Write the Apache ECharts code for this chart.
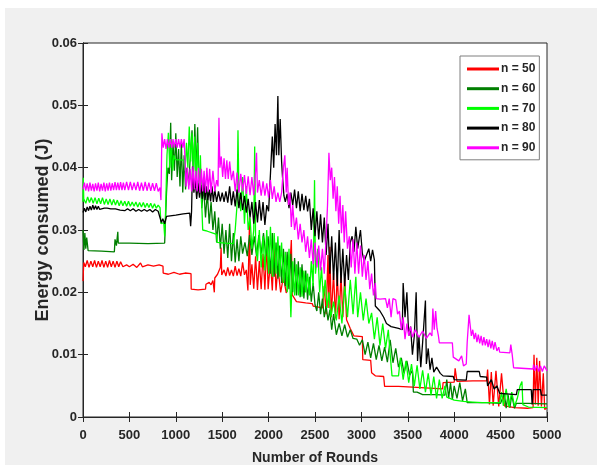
<!DOCTYPE html>
<html>
<head>
<meta charset="utf-8">
<script src="https://cdn.jsdelivr.net/npm/echarts@6/dist/echarts.min.js"></script>
<style>
  html, body { margin: 0; padding: 0; background: #fff; }
  #chart { position: absolute; left: 5px; top: 8px; width: 592px; height: 457px; }
</style>
</head>
<body>
<div id="chart"></div>
<script>
const seriesNames = ["n = 50", "n = 60", "n = 70", "n = 80", "n = 90"];
const colors = ["#ff0000", "#007f00", "#00ff00", "#000000", "#ff00ff"];

// values: [round, energy]
const n50 = [[0,0.0218],[8,0.0248],[25,0.0241],[45,0.0251],[65,0.0240],[85,0.0250],[105,0.0241],[125,0.0251],[145,0.0240],[165,0.0250],[185,0.0241],[205,0.0251],[225,0.0240],[245,0.0250],[265,0.0240],[285,0.0251],[305,0.0241],[325,0.0250],[345,0.0240],[365,0.0250],[385,0.0241],[405,0.0249],[430,0.0241],[470,0.0244],[500,0.0241],[540,0.0245],[580,0.0240],[620,0.0247],[640,0.0241],[700,0.0244],[760,0.0242],[820,0.0244],[862,0.0242],[864,0.0231],[920,0.0229],[980,0.0232],[1040,0.0229],[1100,0.0231],[1164,0.0230],[1166,0.0205],[1240,0.0204],[1320,0.0205],[1325,0.0213],[1360,0.0216],[1380,0.0212],[1400,0.0219],[1415,0.0200],[1420,0.0223],[1450,0.0229],[1470,0.0226],[1480,0.0240],[1488,0.0272],[1495,0.0228],[1520,0.0236],[1540,0.0226],[1560,0.0240],[1580,0.0227],[1600,0.0236],[1620,0.0226],[1640,0.0242],[1660,0.0227],[1680,0.0238],[1700,0.0226],[1720,0.0248],[1740,0.0228],[1760,0.0236],[1777,0.0203],[1785,0.0250],[1795,0.0320],[1802,0.0212],[1820,0.0245],[1840,0.0206],[1860,0.0258],[1880,0.0204],[1900,0.0250],[1920,0.0205],[1940,0.0262],[1960,0.0204],[1980,0.0280],[1995,0.0205],[2020,0.0250],[2040,0.0203],[2060,0.0276],[2080,0.0203],[2100,0.0240],[2130,0.0200],[2160,0.0225],[2190,0.0199],[2220,0.0215],[2245,0.0284],[2255,0.0196],[2300,0.0185],[2400,0.0183],[2470,0.0182],[2480,0.0178],[2580,0.0175],[2600,0.0210],[2620,0.0165],[2640,0.0260],[2650,0.0175],[2660,0.0273],[2675,0.0160],[2700,0.0231],[2720,0.0158],[2740,0.0230],[2760,0.0157],[2780,0.0228],[2800,0.0160],[2820,0.0225],[2840,0.0156],[2880,0.0142],[2920,0.0130],[3010,0.0129],[3015,0.0092],[3100,0.0091],[3110,0.0071],[3150,0.0066],[3240,0.0065],[3250,0.0049],[3400,0.0049],[3550,0.0048],[3560,0.0045],[3875,0.0045],[3880,0.0055],[4000,0.0056],[4010,0.0078],[4030,0.0057],[4200,0.0058],[4350,0.0058],[4360,0.0076],[4380,0.0020],[4400,0.0072],[4420,0.0018],[4450,0.0074],[4480,0.0017],[4510,0.0070],[4540,0.0018],[4650,0.0015],[4790,0.0014],[4850,0.0015],[4860,0.0100],[4875,0.0020],[4890,0.0095],[4905,0.0018],[4920,0.0090],[4940,0.0017],[4960,0.0070],[4975,0.0012],[5000,0.0015]];

const n60 = [[0,0.0300],[10,0.0268],[20,0.0295],[30,0.0270],[40,0.0288],[55,0.0267],[72,0.0266],[200,0.0266],[338,0.0265],[345,0.0285],[360,0.0275],[375,0.0297],[380,0.0279],[500,0.0279],[700,0.0278],[880,0.0279],[885,0.0300],[900,0.0360],[915,0.0400],[930,0.0390],[945,0.0472],[955,0.0380],[970,0.0440],[985,0.0395],[1000,0.0455],[1015,0.0385],[1030,0.0430],[1045,0.0370],[1060,0.0440],[1075,0.0360],[1090,0.0420],[1105,0.0365],[1120,0.0400],[1140,0.0372],[1160,0.0430],[1175,0.0460],[1190,0.0380],[1205,0.0470],[1220,0.0390],[1235,0.0465],[1250,0.0370],[1265,0.0390],[1280,0.0335],[1300,0.0370],[1320,0.0320],[1340,0.0360],[1360,0.0310],[1380,0.0345],[1400,0.0300],[1420,0.0330],[1440,0.0280],[1460,0.0320],[1480,0.0270],[1500,0.0310],[1520,0.0262],[1540,0.0300],[1560,0.0255],[1580,0.0310],[1600,0.0250],[1620,0.0295],[1640,0.0248],[1660,0.0285],[1680,0.0250],[1700,0.0290],[1720,0.0262],[1745,0.0280],[1770,0.0258],[1795,0.0292],[1820,0.0260],[1845,0.0290],[1870,0.0258],[1895,0.0292],[1920,0.0262],[1945,0.0295],[1970,0.0258],[1995,0.0290],[2020,0.0230],[2040,0.0295],[2060,0.0225],[2080,0.0280],[2100,0.0222],[2120,0.0275],[2140,0.0215],[2160,0.0270],[2180,0.0210],[2200,0.0265],[2220,0.0205],[2240,0.0262],[2260,0.0200],[2280,0.0255],[2300,0.0195],[2320,0.0250],[2340,0.0192],[2360,0.0245],[2380,0.0190],[2400,0.0235],[2420,0.0188],[2440,0.0225],[2460,0.0185],[2480,0.0215],[2500,0.0180],[2520,0.0170],[2540,0.0200],[2560,0.0165],[2580,0.0190],[2600,0.0160],[2620,0.0178],[2640,0.0155],[2660,0.0172],[2680,0.0140],[2700,0.0165],[2730,0.0132],[2760,0.0150],[2790,0.0130],[2820,0.0148],[2850,0.0128],[2880,0.0140],[2910,0.0126],[2950,0.0125],[2980,0.0115],[3010,0.0124],[3040,0.0100],[3070,0.0120],[3100,0.0095],[3130,0.0118],[3160,0.0092],[3190,0.0115],[3220,0.0090],[3250,0.0112],[3280,0.0088],[3310,0.0124],[3340,0.0087],[3370,0.0110],[3400,0.0080],[3430,0.0095],[3460,0.0070],[3490,0.0090],[3520,0.0067],[3550,0.0075],[3560,0.0040],[3600,0.0040],[3660,0.0036],[3800,0.0036],[3900,0.0035],[3920,0.0060],[3940,0.0030],[3960,0.0055],[3980,0.0028],[4000,0.0050],[4030,0.0030],[4060,0.0055],[4090,0.0026],[4120,0.0045],[4140,0.0023],[4350,0.0023],[4500,0.0022],[4540,0.0038],[4560,0.0014],[4580,0.0036],[4600,0.0015],[4620,0.0035],[4650,0.0014],[4670,0.0022],[4800,0.0022],[5000,0.0021]];

const n70 = [[0,0.0345],[3,0.0384],[8,0.0350],[30,0.0343],[50,0.0353],[70,0.0344],[90,0.0352],[110,0.0343],[130,0.0352],[150,0.0342],[170,0.0351],[190,0.0342],[210,0.0352],[230,0.0341],[250,0.0350],[270,0.0341],[290,0.0350],[310,0.0340],[330,0.0349],[350,0.0340],[370,0.0348],[390,0.0339],[410,0.0347],[430,0.0339],[450,0.0346],[470,0.0338],[490,0.0346],[510,0.0338],[530,0.0345],[550,0.0338],[570,0.0345],[590,0.0337],[610,0.0344],[630,0.0337],[650,0.0344],[670,0.0336],[690,0.0343],[710,0.0336],[730,0.0343],[750,0.0335],[770,0.0342],[790,0.0335],[810,0.0340],[830,0.0336],[840,0.0310],[870,0.0312],[880,0.0290],[890,0.0330],[905,0.0420],[920,0.0456],[935,0.0400],[950,0.0440],[965,0.0395],[980,0.0420],[995,0.0413],[1090,0.0412],[1100,0.0395],[1115,0.0440],[1130,0.0400],[1145,0.0466],[1160,0.0410],[1175,0.0455],[1190,0.0395],[1205,0.0450],[1220,0.0380],[1235,0.0440],[1250,0.0360],[1265,0.0420],[1280,0.0340],[1290,0.0300],[1340,0.0298],[1400,0.0295],[1440,0.0293],[1445,0.0280],[1530,0.0279],[1620,0.0278],[1640,0.0300],[1660,0.0340],[1670,0.0460],[1680,0.0360],[1700,0.0330],[1720,0.0385],[1740,0.0310],[1760,0.0370],[1780,0.0300],[1800,0.0320],[1820,0.0270],[1840,0.0300],[1850,0.0434],[1860,0.0280],[1880,0.0250],[1900,0.0300],[1920,0.0240],[1940,0.0290],[1960,0.0235],[1980,0.0300],[2000,0.0230],[2020,0.0305],[2040,0.0225],[2060,0.0295],[2080,0.0230],[2100,0.0290],[2120,0.0225],[2140,0.0280],[2160,0.0215],[2180,0.0265],[2200,0.0200],[2220,0.0270],[2240,0.0160],[2260,0.0250],[2280,0.0195],[2300,0.0245],[2320,0.0195],[2340,0.0240],[2360,0.0193],[2380,0.0235],[2400,0.0200],[2420,0.0230],[2440,0.0195],[2460,0.0250],[2480,0.0210],[2495,0.0380],[2505,0.0230],[2530,0.0270],[2550,0.0200],[2570,0.0240],[2590,0.0190],[2610,0.0220],[2630,0.0175],[2650,0.0200],[2670,0.0160],[2700,0.0185],[2730,0.0155],[2760,0.0195],[2790,0.0150],[2820,0.0210],[2850,0.0160],[2880,0.0220],[2910,0.0165],[2940,0.0225],[2960,0.0160],[2990,0.0200],[3020,0.0155],[3050,0.0190],[3080,0.0150],[3110,0.0167],[3140,0.0125],[3170,0.0160],[3200,0.0115],[3230,0.0150],[3260,0.0110],[3290,0.0140],[3310,0.0100],[3330,0.0066],[3400,0.0066],[3420,0.0095],[3450,0.0060],[3480,0.0090],[3510,0.0055],[3540,0.0085],[3570,0.0050],[3600,0.0083],[3630,0.0045],[3660,0.0075],[3690,0.0040],[3720,0.0070],[3750,0.0035],[3780,0.0065],[3810,0.0030],[3840,0.0060],[3870,0.0030],[3900,0.0050],[3920,0.0032],[4000,0.0027],[4100,0.0025],[4200,0.0024],[4300,0.0023],[4490,0.0023],[4510,0.0040],[4530,0.0018],[4560,0.0045],[4590,0.0016],[4620,0.0040],[4650,0.0017],[4680,0.0030],[4710,0.0050],[4730,0.0057],[4740,0.0020],[4800,0.0016],[5000,0.0015]];

const n80 = [[0,0.0328],[15,0.0335],[30,0.0329],[45,0.0337],[60,0.0331],[75,0.0338],[90,0.0332],[105,0.0340],[120,0.0333],[135,0.0339],[150,0.0333],[165,0.0338],[180,0.0333],[200,0.0336],[230,0.0335],[260,0.0335],[300,0.0334],[350,0.0334],[400,0.0332],[420,0.0334],[450,0.0331],[480,0.0334],[510,0.0331],[540,0.0334],[570,0.0330],[600,0.0333],[630,0.0330],[660,0.0333],[690,0.0330],[720,0.0333],[750,0.0329],[780,0.0333],[810,0.0330],[830,0.0328],[845,0.0312],[860,0.0318],[880,0.0310],[900,0.0322],[915,0.0325],[1000,0.0324],[1080,0.0326],[1150,0.0327],[1160,0.0306],[1170,0.0330],[1180,0.0402],[1195,0.0360],[1210,0.0380],[1225,0.0350],[1240,0.0375],[1255,0.0352],[1270,0.0372],[1285,0.0350],[1300,0.0385],[1315,0.0348],[1330,0.0370],[1345,0.0348],[1360,0.0365],[1375,0.0346],[1390,0.0370],[1405,0.0345],[1420,0.0365],[1440,0.0345],[1460,0.0362],[1480,0.0346],[1500,0.0360],[1520,0.0345],[1540,0.0362],[1560,0.0344],[1580,0.0370],[1600,0.0340],[1620,0.0362],[1640,0.0338],[1660,0.0365],[1680,0.0335],[1700,0.0360],[1720,0.0332],[1740,0.0355],[1760,0.0328],[1780,0.0350],[1800,0.0320],[1820,0.0345],[1840,0.0310],[1860,0.0345],[1880,0.0312],[1900,0.0348],[1920,0.0315],[1940,0.0345],[1960,0.0308],[1980,0.0340],[2000,0.0330],[2020,0.0390],[2040,0.0450],[2055,0.0400],[2070,0.0470],[2085,0.0420],[2100,0.0515],[2110,0.0420],[2125,0.0478],[2140,0.0410],[2150,0.0385],[2165,0.0355],[2180,0.0345],[2200,0.0358],[2220,0.0335],[2240,0.0360],[2260,0.0340],[2280,0.0365],[2300,0.0335],[2320,0.0362],[2340,0.0330],[2360,0.0358],[2380,0.0332],[2400,0.0355],[2420,0.0330],[2440,0.0350],[2460,0.0300],[2480,0.0335],[2500,0.0290],[2520,0.0330],[2540,0.0285],[2560,0.0325],[2580,0.0280],[2600,0.0320],[2620,0.0260],[2640,0.0310],[2660,0.0230],[2680,0.0290],[2700,0.0220],[2720,0.0280],[2740,0.0210],[2760,0.0300],[2780,0.0215],[2800,0.0270],[2820,0.0210],[2840,0.0260],[2860,0.0220],[2880,0.0280],[2900,0.0290],[2920,0.0265],[2940,0.0305],[2960,0.0270],[2990,0.0300],[3010,0.0263],[3030,0.0250],[3060,0.0262],[3080,0.0270],[3100,0.0250],[3120,0.0268],[3140,0.0252],[3150,0.0178],[3200,0.0170],[3240,0.0160],[3270,0.0150],[3320,0.0145],[3400,0.0142],[3440,0.0140],[3450,0.0215],[3470,0.0160],[3490,0.0200],[3510,0.0130],[3530,0.0145],[3550,0.0100],[3570,0.0130],[3590,0.0200],[3605,0.0090],[3620,0.0130],[3640,0.0080],[3660,0.0120],[3690,0.0187],[3700,0.0085],[3720,0.0110],[3740,0.0076],[3760,0.0095],[3780,0.0072],[3810,0.0080],[3850,0.0070],[3880,0.0066],[3990,0.0065],[4000,0.0060],[4130,0.0059],[4140,0.0073],[4270,0.0073],[4280,0.0065],[4350,0.0064],[4360,0.0050],[4400,0.0060],[4430,0.0045],[4460,0.0050],[4490,0.0038],[4670,0.0036],[4680,0.0044],[4830,0.0044],[4840,0.0020],[4850,0.0044],[4930,0.0044],[4940,0.0035],[5000,0.0035]];

const n90 = [[0,0.0365],[15,0.0376],[30,0.0363],[45,0.0375],[60,0.0362],[75,0.0376],[90,0.0363],[105,0.0374],[120,0.0362],[135,0.0375],[150,0.0363],[165,0.0376],[180,0.0362],[195,0.0374],[210,0.0363],[225,0.0376],[240,0.0362],[255,0.0375],[270,0.0363],[285,0.0376],[300,0.0363],[315,0.0375],[330,0.0364],[345,0.0377],[360,0.0364],[375,0.0376],[390,0.0364],[405,0.0377],[420,0.0364],[435,0.0376],[450,0.0364],[470,0.0377],[490,0.0364],[510,0.0377],[530,0.0364],[550,0.0376],[570,0.0364],[590,0.0377],[610,0.0363],[630,0.0376],[650,0.0363],[670,0.0377],[690,0.0363],[710,0.0376],[730,0.0363],[750,0.0375],[770,0.0363],[790,0.0375],[810,0.0362],[830,0.0368],[840,0.0348],[850,0.0455],[865,0.0432],[880,0.0446],[895,0.0430],[910,0.0446],[925,0.0432],[940,0.0446],[955,0.0432],[970,0.0446],[985,0.0432],[1000,0.0446],[1015,0.0432],[1030,0.0446],[1045,0.0432],[1060,0.0446],[1075,0.0432],[1090,0.0446],[1100,0.0410],[1110,0.0370],[1125,0.0400],[1140,0.0365],[1155,0.0398],[1170,0.0362],[1185,0.0402],[1200,0.0365],[1215,0.0395],[1230,0.0362],[1245,0.0400],[1260,0.0360],[1275,0.0398],[1290,0.0362],[1305,0.0395],[1320,0.0360],[1335,0.0400],[1350,0.0362],[1365,0.0398],[1380,0.0360],[1400,0.0395],[1420,0.0362],[1440,0.0380],[1455,0.0370],[1465,0.0480],[1475,0.0400],[1490,0.0418],[1505,0.0385],[1520,0.0415],[1535,0.0382],[1550,0.0412],[1565,0.0382],[1580,0.0410],[1600,0.0380],[1620,0.0395],[1640,0.0362],[1660,0.0392],[1680,0.0360],[1700,0.0390],[1720,0.0362],[1740,0.0388],[1760,0.0358],[1780,0.0386],[1800,0.0356],[1820,0.0385],[1840,0.0356],[1860,0.0395],[1870,0.0424],[1880,0.0360],[1900,0.0380],[1920,0.0355],[1940,0.0378],[1960,0.0355],[1980,0.0375],[2000,0.0352],[2020,0.0380],[2040,0.0350],[2060,0.0370],[2080,0.0345],[2100,0.0360],[2120,0.0345],[2140,0.0360],[2160,0.0400],[2175,0.0420],[2190,0.0360],[2200,0.0400],[2215,0.0340],[2230,0.0360],[2245,0.0305],[2260,0.0340],[2280,0.0300],[2300,0.0320],[2320,0.0285],[2340,0.0310],[2360,0.0280],[2380,0.0300],[2400,0.0265],[2420,0.0290],[2440,0.0255],[2460,0.0285],[2480,0.0245],[2500,0.0280],[2520,0.0240],[2540,0.0275],[2560,0.0235],[2580,0.0270],[2600,0.0230],[2620,0.0290],[2635,0.0340],[2650,0.0424],[2665,0.0380],[2680,0.0400],[2695,0.0350],[2710,0.0385],[2725,0.0330],[2740,0.0370],[2755,0.0310],[2770,0.0355],[2785,0.0295],[2800,0.0340],[2815,0.0280],[2830,0.0330],[2850,0.0270],[2870,0.0290],[2890,0.0240],[2910,0.0285],[2930,0.0230],[2950,0.0280],[2970,0.0230],[2990,0.0275],[3010,0.0225],[3030,0.0260],[3050,0.0220],[3070,0.0250],[3090,0.0205],[3110,0.0230],[3130,0.0195],[3150,0.0215],[3160,0.0190],[3200,0.0189],[3260,0.0190],[3280,0.0175],[3300,0.0190],[3320,0.0160],[3340,0.0190],[3370,0.0188],[3390,0.0165],[3410,0.0170],[3430,0.0140],[3450,0.0160],[3470,0.0125],[3490,0.0150],[3510,0.0130],[3530,0.0145],[3550,0.0128],[3580,0.0140],[3620,0.0128],[3660,0.0138],[3700,0.0126],[3740,0.0135],[3760,0.0130],[3770,0.0174],[3785,0.0140],[3800,0.0170],[3815,0.0142],[3830,0.0130],[3840,0.0119],[3980,0.0119],[3990,0.0096],[4050,0.0090],[4080,0.0098],[4100,0.0082],[4130,0.0085],[4140,0.0120],[4160,0.0164],[4170,0.0150],[4185,0.0130],[4200,0.0140],[4215,0.0125],[4230,0.0135],[4245,0.0120],[4260,0.0132],[4275,0.0118],[4290,0.0130],[4305,0.0115],[4320,0.0128],[4335,0.0115],[4350,0.0125],[4365,0.0112],[4380,0.0124],[4395,0.0110],[4410,0.0122],[4425,0.0108],[4440,0.0120],[4460,0.0106],[4480,0.0112],[4490,0.0104],[4600,0.0103],[4610,0.0116],[4625,0.0100],[4640,0.0079],[4850,0.0077],[4855,0.0084],[4870,0.0074],[4890,0.0083],[4910,0.0073],[4930,0.0082],[4950,0.0073],[4970,0.0082],[5000,0.0074]];

const allData = [n50, n60, n70, n80, n90];

const font = "'Liberation Sans', Arial, sans-serif";
const axisColor = "#262626";

const chart = echarts.init(document.getElementById("chart"));

const baseAxis = {
  min: 0,
  axisLine: { show: true, lineStyle: { color: axisColor, width: 1 } },
  axisTick: { show: true, inside: true, length: 5, lineStyle: { color: axisColor } },
  splitLine: { show: false },
};

chart.setOption({
  animation: false,
  backgroundColor: "#f0f0f0",
  grid: {
    left: 78, top: 35, right: 50, bottom: 48,
    outerBoundsMode: "none",
    show: true, backgroundColor: "#ffffff", borderColor: axisColor, borderWidth: 1,
  },
  legend: {
    data: seriesNames,
    orient: "vertical",
    left: 455, top: 48,
    padding: [7, 4, 6, 7],
    itemWidth: 32, itemHeight: 3, itemGap: 7.7,
    icon: "rect",
    backgroundColor: "#ffffff",
    borderColor: "#7f7f7f", borderWidth: 1,
    textStyle: { fontFamily: font, fontWeight: "bold", fontSize: 12, color: axisColor, padding: [0, 0, 0, -3] },
  },
  xAxis: [
    Object.assign({}, baseAxis, {
      type: "value", max: 5000, interval: 500, position: "bottom",
      name: "Number of Rounds", nameLocation: "middle", nameGap: 34, nameMoveOverlap: false,
      nameTextStyle: { fontFamily: font, fontWeight: "bold", fontSize: 14, color: axisColor },
      axisLabel: {
        fontFamily: font, fontWeight: "bold", fontSize: 13, color: axisColor, margin: 12,
        formatter: (v) => String(v),
      },
    }),
    Object.assign({}, baseAxis, {
      type: "value", max: 5000, interval: 500, position: "top",
      axisLabel: { show: false },
    }),
  ],
  yAxis: [
    Object.assign({}, baseAxis, {
      type: "value", max: 0.06, interval: 0.01, position: "left",
      name: "Energy consumed (J)", nameLocation: "middle", nameGap: 31, nameMoveOverlap: false,
      nameTextStyle: { fontFamily: font, fontWeight: "bold", fontSize: 18, color: axisColor },
      axisLabel: {
        fontFamily: font, fontWeight: "bold", fontSize: 13, color: axisColor, margin: 6,
        formatter: (v) => (v === 0 ? "0" : v.toFixed(2)),
      },
    }),
    Object.assign({}, baseAxis, {
      type: "value", max: 0.06, interval: 0.01, position: "right",
      axisLabel: { show: false },
    }),
  ],
  series: allData.map((d, i) => ({
    name: seriesNames[i],
    type: "line",
    data: d,
    showSymbol: false,
    symbol: "none",
    sampling: null,
    lineStyle: { color: colors[i], width: 1.3 },
    itemStyle: { color: colors[i] },
  })),
});
</script>
</body>
</html>
